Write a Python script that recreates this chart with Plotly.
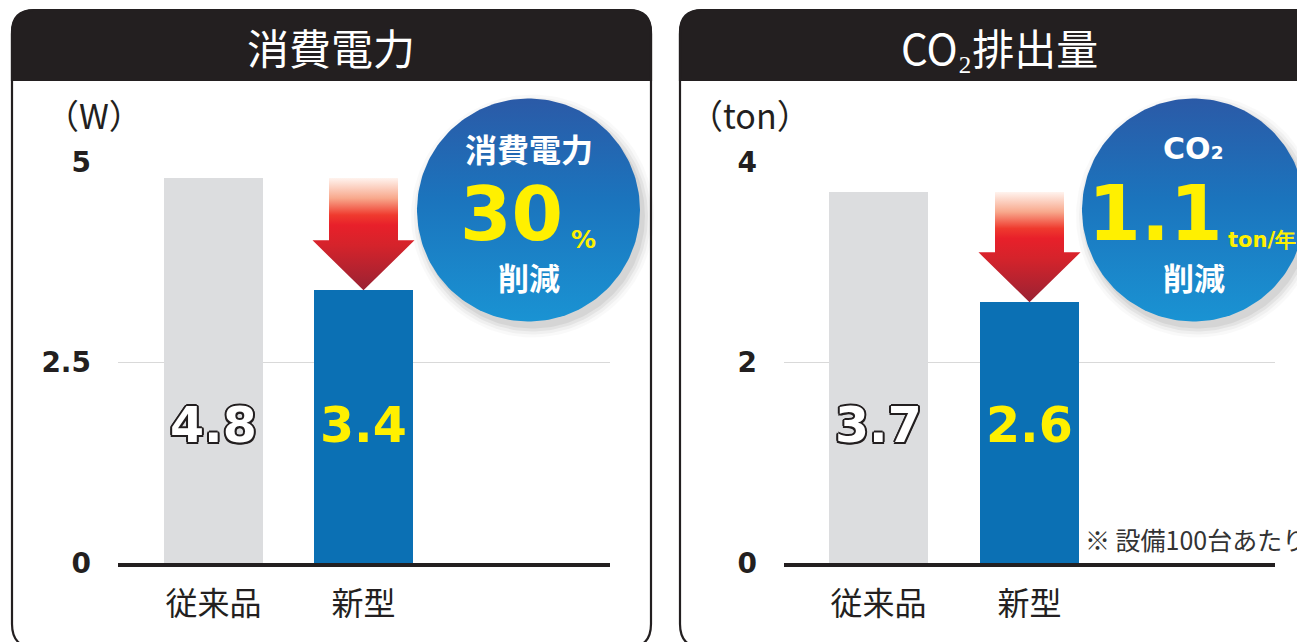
import numpy as np
import plotly.graph_objects as go

W, H = 1305, 642
OFF = 8  # page body margin in the browser

# ---------------- data ----------------
categories = ["従来品", "新型"]
power_values = [4.8, 3.4]
co2_values = [3.7, 2.6]
power_ticks = [0, 2.5, 5]
power_ticklabels = ["0", "2.5", "5"]
co2_ticks = [0, 2, 4]
co2_ticklabels = ["0", "2", "4"]
power_title = "消費電力"
co2_title = "CO₂排出量"
power_unit = "（W）"
co2_unit = "（ton）"
power_badge_head = "消費電力"
power_badge_value = "30"
power_badge_unit = "%"
co2_badge_head = "CO₂"
co2_badge_value = "1.1"
co2_badge_unit = "ton/年"
badge_tail = "削減"
note_text = "※ 設備100台あたり"

# ---------------- style ----------------
DARK = "#231f20"
GRAY_BAR = "#dcdddf"
BLUE_BAR = "#0b70b4"
YELLOW = "#fff000"
CJK = "Noto Sans CJK JP"
NUM = "DejaVu Sans"


def px(x):
    return (x - OFF) / W


def py(y):
    return 1 - (y - OFF) / H


def rounded_path(x0, y0, x1, y1, r, top=True, bottom=True):
    rt = r if top else 0
    rb = r if bottom else 0
    s = f"M {px(x0)},{py(y0 + rt)} "
    if top:
        s += f"Q {px(x0)},{py(y0)} {px(x0 + r)},{py(y0)} "
    s += f"L {px(x1 - rt)},{py(y0)} "
    if top:
        s += f"Q {px(x1)},{py(y0)} {px(x1)},{py(y0 + r)} "
    s += f"L {px(x1)},{py(y1 - rb)} "
    if bottom:
        s += f"Q {px(x1)},{py(y1)} {px(x1 - r)},{py(y1)} "
    s += f"L {px(x0 + rb)},{py(y1)} "
    if bottom:
        s += f"Q {px(x0)},{py(y1)} {px(x0)},{py(y1 - r)} "
    s += "Z"
    return s


fig = go.Figure()

# plot geometry (screen pixels)
Y0_PX, YTOP_PX = 563, 162
ydom = [py(Y0_PX), py(YTOP_PX)]

panels = [
    dict(values=power_values, ticks=power_ticks, ticklabels=power_ticklabels,
         xa="x", ya="y", xdom=[118, 610], c0=213.5, unit=150.0,
         ymax=5.0, title=power_title, tcx=331, unit_label=power_unit,
         panel=[12, 651], unit_x=43, cx=528.5, cy=210,
         badge=(power_badge_head, power_badge_value, power_badge_unit)),
    dict(values=co2_values, ticks=co2_ticks, ticklabels=co2_ticklabels,
         xa="x2", ya="y2", xdom=[784, 1275], c0=878.5, unit=151.0,
         ymax=4.0, title=co2_title, tcx=999, unit_label=co2_unit,
         panel=[680, 1340], unit_x=687, cx=1193.5, cy=210,
         badge=(co2_badge_head, co2_badge_value, co2_badge_unit)),
]

shapes = []
annotations = []
xpos = list(range(len(categories)))

for i, p in enumerate(panels):
    # bars
    fig.add_trace(go.Bar(
        x=xpos, y=p["values"], width=0.66,
        marker=dict(color=[GRAY_BAR, BLUE_BAR], line=dict(width=0)),
        xaxis=p["xa"], yaxis=p["ya"], showlegend=False, hoverinfo="skip"))

    # arrow from old value down to new value (data coordinates)
    old, new = p["values"][0], p["values"][1]
    ppu = (Y0_PX - YTOP_PX) / p["ymax"]
    head_h = 50.0 / ppu
    sw = 34.5 / p["unit"]
    hw = 51.0 / p["unit"]
    xc = xpos[1]
    ax = [xc - sw, xc + sw, xc + sw, xc + hw, xc, xc - hw, xc - sw, xc - sw]
    ay = [old, old, new + head_h, new + head_h, new, new + head_h, new + head_h, old]
    fig.add_trace(go.Scatter(
        x=ax, y=ay, mode="lines", fill="toself", line=dict(width=0),
        fillgradient=dict(type="vertical", start=old, stop=new,
                          colorscale=[[0, "#fff3ee"], [0.18, "#f8a88c"],
                                      [0.33, "#ef3a2e"], [0.42, "#e8202a"],
                                      [0.6, "#d5232b"], [1, "#992233"]]),
        xaxis=p["xa"], yaxis=p["ya"], showlegend=False, hoverinfo="skip"))

    # panel shapes
    x0, x1 = p["panel"]
    shapes.append(dict(type="path", xref="paper", yref="paper", layer="below",
                       path=rounded_path(x0, 10, x1, 648, 24),
                       fillcolor="white", line=dict(color=DARK, width=2.2)))
    shapes.append(dict(type="path", xref="paper", yref="paper", layer="below",
                       path=rounded_path(x0, 10, x1, 80, 22, top=True, bottom=False),
                       fillcolor=DARK, line=dict(color=DARK, width=2.2)))

    # header title
    annotations.append(dict(x=px(p["tcx"]), y=py(46), xref="paper", yref="paper",
                            text=p["title"], showarrow=False,
                            font=dict(family=CJK, size=42, color="white"),
                            xanchor="center", yanchor="middle"))
    # unit label
    annotations.append(dict(x=px(p["unit_x"]), y=py(115), xref="paper", yref="paper",
                            text=p["unit_label"], showarrow=False,
                            font=dict(family=CJK, size=34, color=DARK),
                            xanchor="left", yanchor="middle"))

    # value labels in bars
    for j, v in enumerate(p["values"]):
        if j == 0:
            o = DARK
            sh = ", ".join(f"{dx}px {dy}px 0 {o}" for dx, dy in
                           [(-2, 0), (2, 0), (0, -2), (0, 2), (-1.5, -1.5),
                            (1.5, -1.5), (-1.5, 1.5), (1.5, 1.5)])
            f = dict(family=NUM, size=49, color="white", weight="bold", shadow=sh)
        else:
            f = dict(family=NUM, size=49, color=YELLOW, weight="bold")
        annotations.append(dict(x=xpos[j], y=py(425), xref=p["xa"], yref="paper",
                                text=f"{v}", showarrow=False, font=f,
                                xanchor="center", yanchor="middle"))

    # badge circle with soft shadow
    t = np.linspace(0, 2 * np.pi, 200)
    r = 111.5
    for dr, op in [(10, 0.025), (7, 0.035), (4, 0.05), (1, 0.06)]:
        fig.add_trace(go.Scatter(
            x=p["cx"] + 4 + (r + dr) * np.cos(t), y=p["cy"] + 6 + (r + dr) * np.sin(t),
            mode="lines", fill="toself", line=dict(width=0),
            fillcolor=f"rgba(0,0,0,{op})", xaxis="x3", yaxis="y3",
            showlegend=False, hoverinfo="skip"))
    fig.add_trace(go.Scatter(
        x=p["cx"] + r * np.cos(t), y=p["cy"] + r * np.sin(t),
        mode="lines", fill="toself", line=dict(width=0),
        fillgradient=dict(type="vertical", start=p["cy"] - r, stop=p["cy"] + r,
                          colorscale=[[0, "#2b5aa7"], [0.45, "#1b74bd"], [1, "#1a93d3"]]),
        xaxis="x3", yaxis="y3", showlegend=False, hoverinfo="skip"))

    head, val, unit = p["badge"]
    annotations.append(dict(x=px(p["cx"]), y=py(148), xref="paper", yref="paper",
                            text=head, showarrow=False,
                            font=dict(family=CJK if i == 0 else NUM, size=32 if i == 0 else 30,
                                      color="white", weight="bold"),
                            xanchor="center", yanchor="middle"))
    annotations.append(dict(x=px(p["cx"]), y=py(276), xref="paper", yref="paper",
                            text=badge_tail, showarrow=False,
                            font=dict(family=CJK, size=31, color="white", weight="bold"),
                            xanchor="center", yanchor="middle"))
    if i == 0:
        annotations.append(dict(x=px(511), y=py(214), xref="paper", yref="paper",
                                text=val, showarrow=False,
                                font=dict(family=NUM, size=74, color=YELLOW, weight="bold"),
                                xanchor="center", yanchor="middle"))
        annotations.append(dict(x=px(583), y=py(239), xref="paper", yref="paper",
                                text=unit, showarrow=False,
                                font=dict(family=NUM, size=25, color=YELLOW, weight="bold"),
                                xanchor="center", yanchor="middle"))
    else:
        annotations.append(dict(x=px(1155), y=py(214), xref="paper", yref="paper",
                                text=val, showarrow=False,
                                font=dict(family=NUM, size=76, color=YELLOW, weight="bold"),
                                xanchor="center", yanchor="middle"))
        annotations.append(dict(x=px(1262), y=py(240), xref="paper", yref="paper",
                                text=unit, showarrow=False,
                                font=dict(family=NUM, size=21, color=YELLOW, weight="bold"),
                                xanchor="center", yanchor="middle"))

# note
annotations.append(dict(x=px(1083), y=py(539), xref="paper", yref="paper",
                        text=note_text, showarrow=False,
                        font=dict(family=CJK, size=25, color="#333333"),
                        xanchor="left", yanchor="middle"))

layout_axes = {}
for i, p in enumerate(panels):
    xname = "xaxis" if i == 0 else "xaxis2"
    yname = "yaxis" if i == 0 else "yaxis2"
    xr = [(p["xdom"][0] - p["c0"]) / p["unit"], (p["xdom"][1] - p["c0"]) / p["unit"]]
    layout_axes[xname] = dict(
        domain=[px(p["xdom"][0]), px(p["xdom"][1])], range=xr, anchor=p["ya"],
        tickvals=xpos, ticktext=categories, showgrid=False, zeroline=False,
        showline=True, linecolor=DARK, linewidth=3.5, ticks="",
        tickfont=dict(family=CJK, size=32, color=DARK), ticklabelstandoff=10,
        automargin=False, fixedrange=True)
    layout_axes[yname] = dict(
        domain=ydom, range=[0, p["ymax"]], anchor=p["xa"],
        tickvals=p["ticks"], ticktext=p["ticklabels"], showgrid=True,
        gridcolor="#d9d9d9", gridwidth=1.2, zeroline=False, showline=False,
        ticks="", tickfont=dict(family=NUM, size=28, color=DARK, weight="bold"),
        ticklabelstandoff=26, automargin=False, fixedrange=True)

fig.update_layout(
    width=W, height=H, margin=dict(l=0, r=0, t=0, b=0, autoexpand=False),
    paper_bgcolor="white", plot_bgcolor="rgba(0,0,0,0)",
    showlegend=False, bargap=0,
    shapes=shapes, annotations=annotations,
    xaxis3=dict(domain=[0, 1], range=[OFF, W + OFF], visible=False, anchor="y3",
                automargin=False, fixedrange=True),
    yaxis3=dict(domain=[0, 1], range=[H + OFF, OFF], visible=False, anchor="x3",
                automargin=False, fixedrange=True),
    **layout_axes,
)

fig.write_html("out.html", config={"displayModeBar": False})
